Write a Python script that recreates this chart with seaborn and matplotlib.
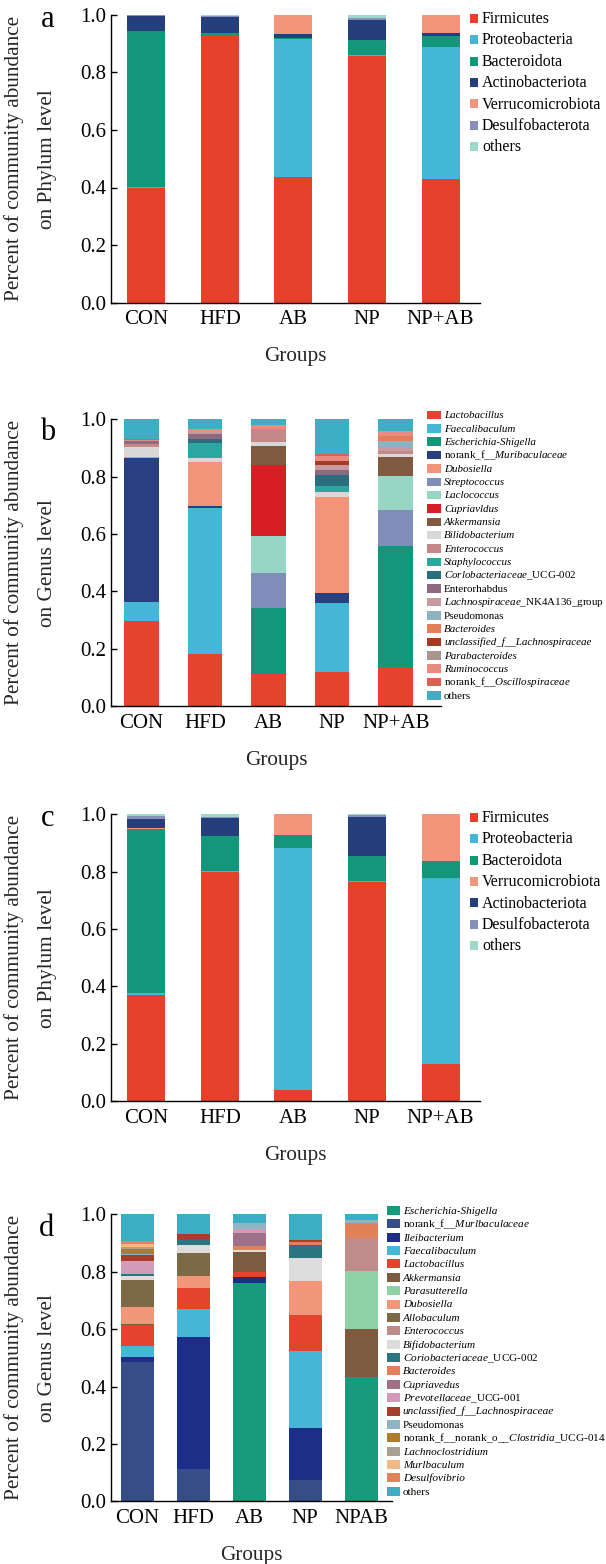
import matplotlib
matplotlib.use("Agg")
import matplotlib.pyplot as plt
from matplotlib.patches import Rectangle
from matplotlib.ticker import FormatStrFormatter
import pandas as pd
import seaborn as sns

# ---------------------------------------------------------------- data
groups_abc = ["CON", "HFD", "AB", "NP", "NP+AB"]
groups_d = ["CON", "HFD", "AB", "NP", "NPAB"]
y_ticks = [0.0, 0.2, 0.4, 0.6, 0.8, 1.0]

# panel a (phylum)
phyla_a = ["Firmicutes", "Proteobacteria", "Bacteroidota", "Actinobacteriota",
           "Verrucomicrobiota", "Desulfobacterota", "others"]
a_CON = [0.398, 0.004, 0.543, 0.050, 0.000, 0.003, 0.002]
a_HFD = [0.928, 0.002, 0.008, 0.053, 0.000, 0.005, 0.004]
a_AB = [0.437, 0.477, 0.006, 0.014, 0.066, 0.000, 0.000]
a_NP = [0.856, 0.004, 0.052, 0.068, 0.000, 0.008, 0.012]
a_NPAB = [0.429, 0.458, 0.038, 0.010, 0.065, 0.000, 0.000]

# panel c (phylum)
phyla_c = ["Firmicutes", "Proteobacteria", "Bacteroidota", "Verrucomicrobiota",
           "Actinobacteriota", "Desulfobacterota", "others"]
c_CON = [0.369, 0.008, 0.571, 0.004, 0.033, 0.010, 0.005]
c_HFD = [0.799, 0.002, 0.125, 0.000, 0.060, 0.004, 0.010]
c_AB = [0.040, 0.841, 0.047, 0.072, 0.000, 0.000, 0.000]
c_NP = [0.765, 0.003, 0.087, 0.000, 0.137, 0.005, 0.003]
c_NPAB = [0.130, 0.649, 0.058, 0.163, 0.000, 0.000, 0.000]

# panel b (genus)
genera_b = ["Lactobacillus", "Faecalibaculum", "Escherichia-Shigella",
            "norank_f__Muribaculaceae", "Dubosiella", "Streptococcus",
            "Laclococcus", "Cupriavldus", "Akkermansia", "Bilidobacterium",
            "Enterococcus", "Staphylococcus", "Corlobacteriaceae_UCG-002",
            "Enterorhabdus", "Lachnospiraceae_NK4A136_group", "Pseudomonas",
            "Bacteroides", "unclassified_f__Lachnospiraceae", "Parabacteroides",
            "Ruminococcus", "norank_f__Oscillospiraceae", "others"]
b_CON = [0.297, 0.067, 0.000, 0.500, 0.006, 0.000, 0.000, 0.000, 0.000, 0.035, 0.008,
         0.000, 0.000, 0.012, 0.000, 0.000, 0.000, 0.000, 0.000, 0.004, 0.003, 0.068]
b_HFD = [0.180, 0.510, 0.000, 0.008, 0.154, 0.000, 0.000, 0.000, 0.000, 0.013, 0.000,
         0.051, 0.014, 0.020, 0.008, 0.000, 0.000, 0.000, 0.000, 0.007, 0.000, 0.035]
b_AB = [0.112, 0.000, 0.229, 0.000, 0.000, 0.124, 0.128, 0.248, 0.066, 0.014, 0.046,
        0.000, 0.000, 0.000, 0.000, 0.000, 0.000, 0.000, 0.000, 0.012, 0.000, 0.021]
b_NP = [0.117, 0.241, 0.000, 0.037, 0.335, 0.000, 0.000, 0.000, 0.000, 0.017, 0.000,
        0.022, 0.035, 0.020, 0.018, 0.000, 0.000, 0.011, 0.000, 0.018, 0.008, 0.121]
b_NPAB = [0.137, 0.000, 0.421, 0.000, 0.000, 0.126, 0.119, 0.000, 0.067, 0.008, 0.010,
          0.000, 0.000, 0.000, 0.012, 0.024, 0.018, 0.000, 0.000, 0.016, 0.000, 0.042]

# panel d (genus)
genera_d = ["Escherichia-Shigella", "norank_f__Murlbaculaceae", "Ileibacterium",
            "Faecalibaculum", "Lactobacillus", "Akkermansia", "Parasutterella",
            "Dubosiella", "Allobaculum", "Enterococcus", "Bifidobacterium",
            "Coriobacteriaceae_UCG-002", "Bacteroides", "Cupriavedus",
            "Prevotellaceae_UCG-001", "unclassified_f__Lachnospiraceae",
            "Pseudomonas", "norank_f__norank_o__Clostridia_UCG-014",
            "Lachnoclostridium", "Murlbaculum", "Desulfovibrio", "others"]
d_CON = [0.000, 0.487, 0.015, 0.039, 0.073, 0.003, 0.000, 0.061, 0.094, 0.000, 0.012,
         0.007, 0.000, 0.000, 0.045, 0.022, 0.005, 0.015, 0.008, 0.012, 0.010, 0.092]
d_HFD = [0.000, 0.113, 0.461, 0.095, 0.075, 0.000, 0.000, 0.040, 0.082, 0.000, 0.026,
         0.020, 0.000, 0.000, 0.000, 0.018, 0.000, 0.000, 0.000, 0.000, 0.000, 0.070]
d_AB = [0.762, 0.000, 0.020, 0.000, 0.016, 0.072, 0.000, 0.000, 0.000, 0.000, 0.005,
        0.000, 0.015, 0.045, 0.015, 0.000, 0.018, 0.000, 0.000, 0.000, 0.000, 0.032]
d_NP = [0.000, 0.074, 0.180, 0.270, 0.125, 0.000, 0.000, 0.117, 0.000, 0.000, 0.081,
        0.047, 0.008, 0.000, 0.000, 0.010, 0.000, 0.000, 0.000, 0.000, 0.000, 0.088]
d_NPAB = [0.432, 0.000, 0.000, 0.000, 0.000, 0.167, 0.205, 0.000, 0.000, 0.114, 0.000,
          0.000, 0.050, 0.000, 0.000, 0.000, 0.013, 0.000, 0.000, 0.000, 0.000, 0.019]

# ---------------------------------------------------------------- styles
col_phylum = {"Firmicutes": "#e5412a", "Proteobacteria": "#43b7d6",
              "Bacteroidota": "#139679", "Actinobacteriota": "#253f7d",
              "Verrucomicrobiota": "#f2957b", "Desulfobacterota": "#8590bb",
              "others": "#9dd8c8"}
col_b = ["#e5432e", "#45b6d6", "#13967a", "#2a3f7f", "#f29479", "#7f8db8",
         "#97d5c5", "#d81e25", "#7f5a3e", "#d8d8d8", "#c48887", "#2ba79f",
         "#2a6e7e", "#8d6a80", "#c89aa0", "#8eb2bf", "#e27f58", "#a33c22",
         "#a9958d", "#e98b80", "#da6250", "#3bafc3"]
col_d = ["#17997c", "#364d88", "#1c2e85", "#46b7d6", "#e5432e", "#7e5a3f",
         "#90d2a6", "#f29679", "#7c6a46", "#c08c8b", "#dcdcdc", "#2b7580",
         "#e0815a", "#9f7189", "#d29cb9", "#a83e28", "#8fb5c3", "#b07a2c",
         "#aaa093", "#f1b888", "#e0855b", "#3aaec3"]

W, H = 606, 1564
sns.set_theme(style="ticks")
plt.rcParams.update({
    "font.family": ["Liberation Serif", "DejaVu Serif"],
    "mathtext.fontset": "custom",
    "mathtext.rm": "Liberation Serif",
    "mathtext.it": "Liberation Serif:italic",
    "mathtext.bf": "Liberation Serif:bold",
    "axes.linewidth": 1.0,
    "axes.edgecolor": "black",
    "xtick.color": "black",
    "ytick.color": "black",
    "text.color": "black",
})

fig = plt.figure(figsize=(W / 100, H / 100), dpi=100)


def ax_at(left, top, right, bottom):
    return fig.add_axes([left / W, 1 - bottom / H, (right - left) / W, (bottom - top) / H])


def stacked(ax, groups, taxa, per_group, colors, shrink, xlim, ylab):
    rows = []
    for g, vals in zip(groups, per_group):
        for t, v in zip(taxa, vals):
            rows.append({"group": g, "taxon": t, "value": v})
    df = pd.DataFrame(rows)
    sns.histplot(data=df, x="group", hue="taxon", weights="value",
                 hue_order=taxa[::-1], palette=dict(zip(taxa, colors)),
                 multiple="stack", discrete=True, shrink=shrink, alpha=1,
                 linewidth=0, edgecolor="none", legend=False, ax=ax)
    ax.set_xlim(*xlim)
    ax.set_ylim(0, 1)
    ax.set_xticks(range(len(groups)))
    ax.set_xticklabels(groups)
    ax.set_yticks(y_ticks)
    ax.yaxis.set_major_formatter(FormatStrFormatter("%.1f"))
    ax.tick_params(axis="both", direction="in", labelsize=15, width=1.0)
    ax.tick_params(axis="x", length=5, pad=5.5)
    ax.tick_params(axis="y", length=4.5, pad=3.6)
    sns.despine(ax=ax)
    ax.set_xlabel("Groups", fontsize=15.3, labelpad=13)
    ax.set_ylabel("Percent of community abundance\non " + ylab + " level",
                  fontsize=15.3, linespacing=2.0)
    lab = ax.yaxis.label
    lab.set_verticalalignment("center")
    pos = ax.get_position()
    ax.yaxis.set_label_coords((31 - 111) / (pos.width * W), 0.5)


def fmt_label(name):
    if name in ("others", "Enterorhabdus", "Pseudomonas"):
        return name, "normal"
    if name.startswith("norank_f__norank_o__"):
        rest = name[len("norank_f__norank_o__"):]
        genus, tail = rest.split("_", 1)
        return "norank_f__norank_o__$\\mathit{" + genus + "}$_" + tail, "normal"
    if name.startswith("norank_f__"):
        return "norank_f__$\\mathit{" + name[len("norank_f__"):] + "}$", "normal"
    if "_UCG-" in name or "_NK4A136" in name:
        genus, tail = name.split("_", 1)
        return "$\\mathit{" + genus + "}$_" + tail, "normal"
    return name, "italic"


def legend(labels, colors, hx, hw, hh, y0, dy, tx, fs, styled):
    em = fs * 100 / 72
    for i, (lab, c) in enumerate(zip(labels, colors)):
        yc = y0 + i * dy
        fig.add_artist(Rectangle((hx / W, 1 - (yc + hh / 2) / H), hw / W, hh / H,
                                 transform=fig.transFigure, facecolor=c,
                                 edgecolor="none"))
        if styled:
            txt, style = fmt_label(lab)
        else:
            txt, style = lab, "normal"
        fig.text(tx / W, 1 - (yc + 0.3 * em) / H, txt, fontsize=fs,
                 fontstyle=style, ha="left", va="baseline")


# ---------------------------------------------------------------- panel a
ax_a = ax_at(111, 14.7, 479.5, 302.7)
stacked(ax_a, groups_abc, phyla_a, [a_CON, a_HFD, a_AB, a_NP, a_NPAB],
        [col_phylum[p] for p in phyla_a], 0.517, (-0.48, 4.53), "Phylum")
legend(phyla_a, [col_phylum[p] for p in phyla_a], 470, 8, 9, 18.3, 21.4, 482, 11.4, False)
fig.text(47.5 / W, 1 - 27 / H, "a", fontsize=22, ha="center", va="baseline")

# ---------------------------------------------------------------- panel b
ax_b = ax_at(111, 419.3, 441, 706)
stacked(ax_b, groups_abc, genera_b, [b_CON, b_HFD, b_AB, b_NP, b_NPAB],
        col_b, 0.543, (-0.483, 4.713), "Genus")
legend(genera_b, col_b, 427.3, 13.4, 8.5, 415, 13.35, 444, 7.9, True)
fig.text(47.5 / W, 1 - 440 / H, "b", fontsize=22, ha="center", va="baseline")

# ---------------------------------------------------------------- panel c
ax_c = ax_at(111, 814.3, 479.5, 1101)
stacked(ax_c, groups_abc, phyla_c, [c_CON, c_HFD, c_AB, c_NP, c_NPAB],
        [col_phylum[p] for p in phyla_c], 0.517, (-0.48, 4.53), "Phylum")
legend(phyla_c, [col_phylum[p] for p in phyla_c], 470, 8, 9, 817.3, 21.4, 482, 11.4, False)
fig.text(47.5 / W, 1 - 826 / H, "c", fontsize=22, ha="center", va="baseline")

# ---------------------------------------------------------------- panel d
ax_d = ax_at(111, 1214.3, 392, 1501.3)
stacked(ax_d, groups_d, genera_d, [d_CON, d_HFD, d_AB, d_NP, d_NPAB],
        col_d, 0.596, (-0.47, 4.55), "Genus")
legend(genera_d, col_d, 387.3, 12.7, 9, 1210.5, 13.37, 402.7, 8.1, True)
fig.text(47 / W, 1 - 1236 / H, "d", fontsize=22, ha="center", va="baseline")

fig.savefig("out.png", dpi=100)
